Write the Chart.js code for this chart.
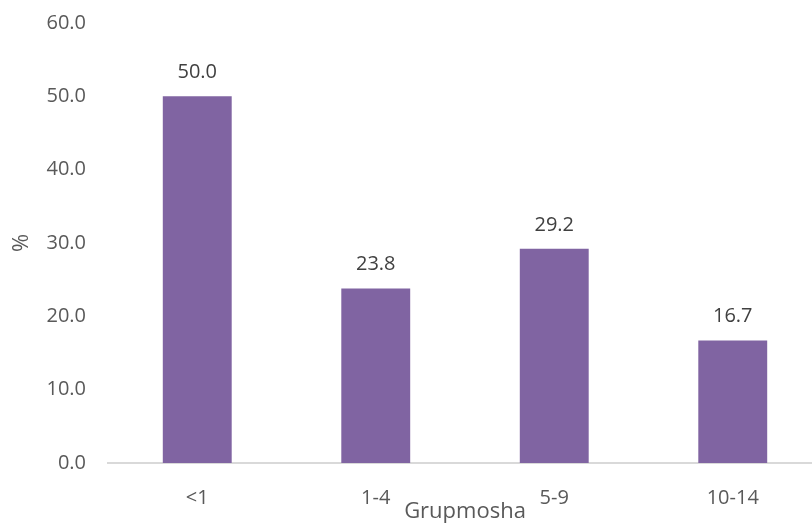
<!DOCTYPE html>
<html>
<head>
<meta charset="utf-8">
<script src="https://cdn.jsdelivr.net/npm/chart.js@4/dist/chart.umd.min.js"></script>
<style>
  html, body { margin: 0; padding: 0; background: #fff; overflow: hidden; }
  #wrap { width: 830px; height: 525px; }
</style>
</head>
<body>
<div id="wrap"><canvas id="bar"></canvas></div>
<script>
// Grupmosha dhe përqindjet
const grupmosha = ["<1", "1-4", "5-9", "10-14"];
const perqindja = [50.0, 23.8, 29.2, 16.7];
const yTicks = [0, 10, 20, 30, 40, 50, 60];

const ngjyraTeksti = "#595959";
const fontiBoshtit = { family: "'Open Sans', sans-serif", size: 20 };
const fontiTitullit = { family: "'Open Sans', sans-serif", size: 22 };

// Vlerat mbi shtyllat
const etiketat = {
    id: "etiketat",
    afterDatasetsDraw(chart) {
        const ctx = chart.ctx;
        const meta = chart.getDatasetMeta(0);
        ctx.save();
        ctx.fillStyle = "#404040";
        ctx.font = "20px 'Open Sans', sans-serif";
        ctx.textAlign = "center";
        ctx.textBaseline = "middle";
        meta.data.forEach((bar, i) => {
            ctx.fillText(perqindja[i].toFixed(1), bar.x, bar.y - 24);
        });
        ctx.restore();
    }
};

const ctx = document.getElementById("bar").getContext("2d");
new Chart(ctx, {
    type: "bar",
    data: {
        labels: grupmosha,
        datasets: [{
            data: perqindja,
            backgroundColor: "#8064A2",
            barPercentage: 0.386,
            categoryPercentage: 1
        }]
    },
    options: {
        responsive: true,
        maintainAspectRatio: false,
        animation: false,
        layout: { padding: { top: 23, right: 8, bottom: 0, left: 0 } },
        plugins: {
            legend: { display: false },
            tooltip: { enabled: false }
        },
        scales: {
            x: {
                afterFit(scale) {
                    scale.height = 62;
                },
                grid: { display: false, drawTicks: false },
                border: { color: "#D9D9D9", width: 2 },
                ticks: { color: ngjyraTeksti, font: fontiBoshtit, padding: 23 },
                title: {
                    display: true,
                    text: "Grupmosha",
                    color: ngjyraTeksti,
                    font: fontiTitullit,
                    padding: { top: 0, bottom: 0 }
                }
            },
            y: {
                min: 0,
                max: 60,
                afterBuildTicks(scale) {
                    scale.ticks = yTicks.map(v => ({ value: v }));
                },
                afterFit(scale) {
                    scale.width = 108;
                    scale.paddingTop = 0;
                    scale.paddingBottom = 0;
                },
                grid: { display: false, drawTicks: false },
                border: { display: false },
                ticks: {
                    color: ngjyraTeksti,
                    font: fontiBoshtit,
                    padding: 22,
                    callback: v => v.toFixed(1)
                },
                title: {
                    display: true,
                    text: "%",
                    color: ngjyraTeksti,
                    font: fontiTitullit,
                    padding: { top: 9, bottom: 0 }
                }
            }
        }
    },
    plugins: [etiketat]
});
</script>
</body>
</html>
